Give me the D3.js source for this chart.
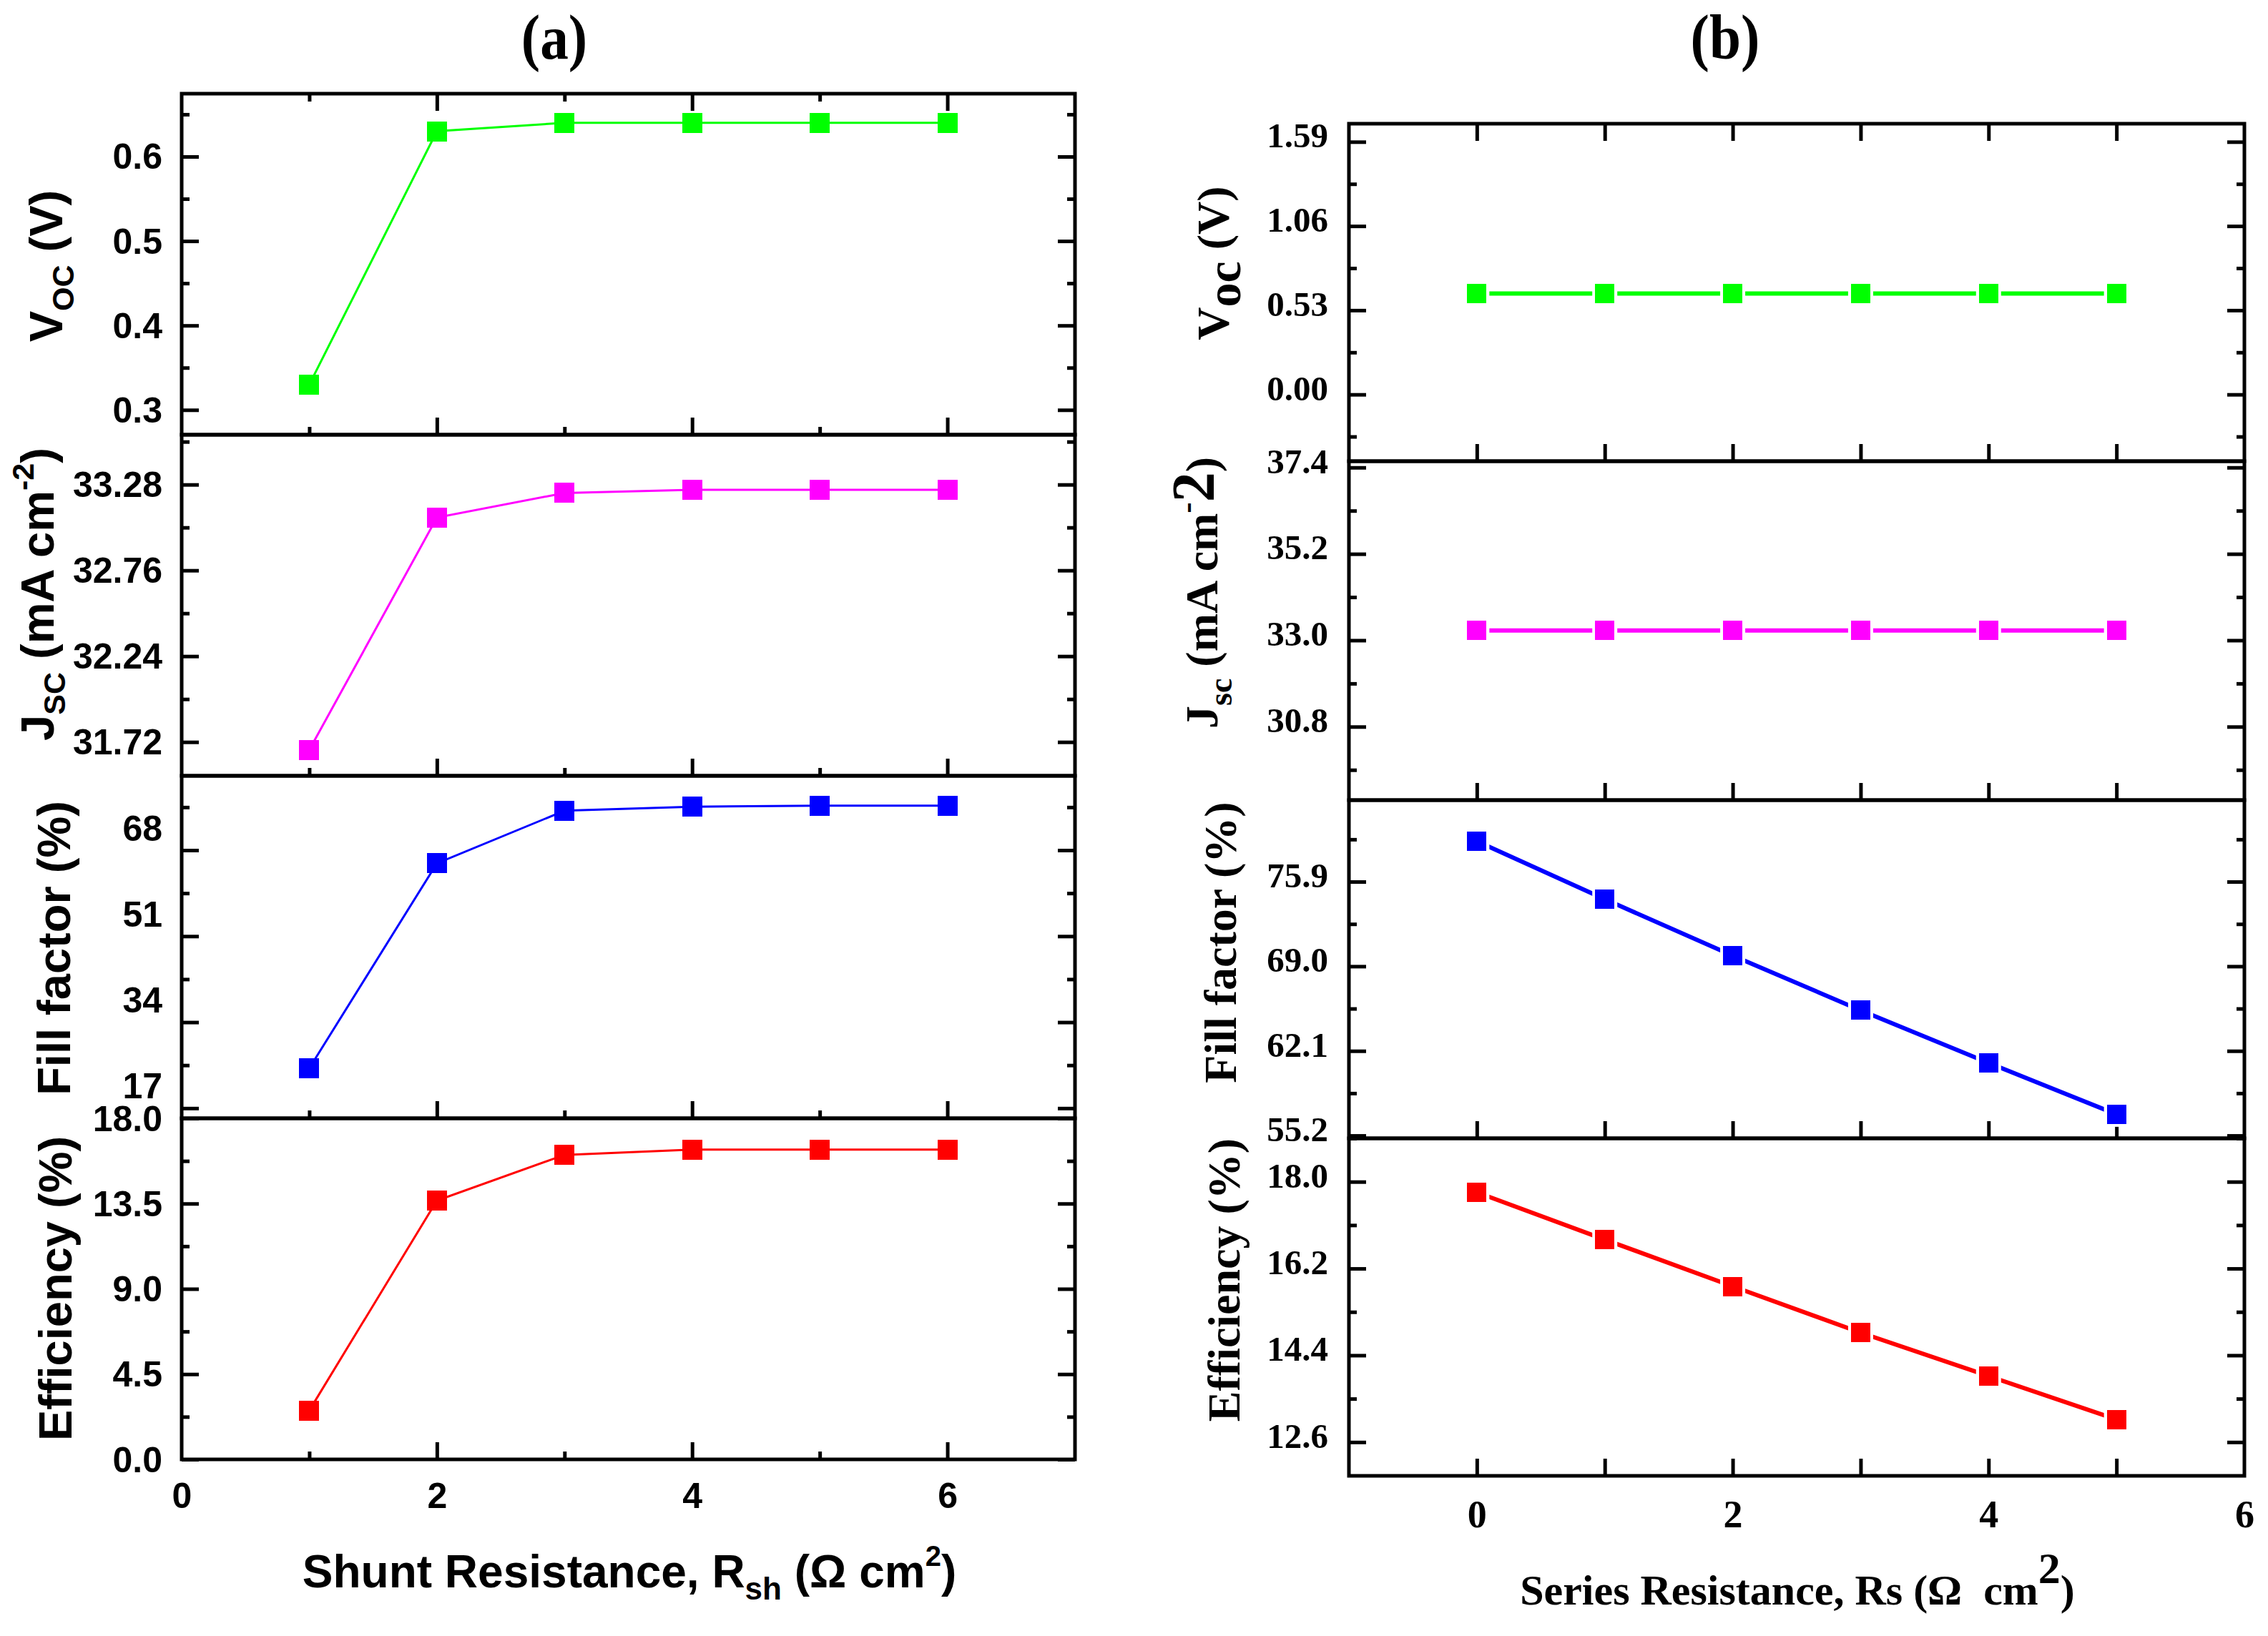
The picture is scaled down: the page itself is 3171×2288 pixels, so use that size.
<!DOCTYPE html>
<html>
<head>
<meta charset="utf-8">
<script src="https://cdn.jsdelivr.net/npm/d3@7"></script>
<style>
  body { margin: 0; background: #fff; }
  svg { display: block; }
  .sans { font-family: "Liberation Sans", Arial, sans-serif; font-weight: bold; }
  .serif { font-family: "Liberation Serif", "Times New Roman", serif; font-weight: bold; }
</style>
</head>
<body>
<div id="chart"></div>
<script>
// ---- data, panel (a): shunt resistance ----
var rshValues = [1, 2, 3, 4, 5, 6];
var vocShunt = [0.33, 0.63, 0.64, 0.64, 0.64, 0.64];
var jscShunt = [31.672, 33.08, 33.229, 33.248, 33.248, 33.248];
var ffShunt = [24.9, 65.4, 75.8, 76.6, 76.8, 76.8];
var effShunt = [2.58, 13.66, 16.07, 16.35, 16.35, 16.35];

// ---- data, panel (b): series resistance ----
var rsValues = [0, 1, 2, 3, 4, 5];
var vocSeries = [0.635, 0.635, 0.635, 0.635, 0.635, 0.635];
var jscSeries = [33.25, 33.25, 33.25, 33.25, 33.25, 33.25];
var ffSeries = [79.2, 74.47, 69.87, 65.41, 61.12, 56.93];
var effSeries = [17.78, 16.80, 15.83, 14.87, 13.97, 13.07];

// ---- tick values ----
var xTicksA = [2, 4, 6], xMinorA = [1, 3, 5], xLabelsA = [0, 2, 4, 6];
var xTicksB = [0, 1, 2, 3, 4, 5], xLabelsB = [0, 2, 4, 6];

var vocTicksA = [0.3, 0.4, 0.5, 0.6], vocMinorA = [0.35, 0.45, 0.55, 0.65];
var jscTicksA = [31.72, 32.24, 32.76, 33.28], jscMinorA = [31.98, 32.5, 33.02, 33.54];
var ffTicksA = [17, 34, 51, 68], ffMinorA = [25.5, 42.5, 59.5, 76.5];
var effTicksA = [0, 4.5, 9, 13.5, 18], effMinorA = [2.25, 6.75, 11.25, 15.75];

var vocTicksB = [0, 0.53, 1.06, 1.59], vocMinorB = [-0.265, 0.265, 0.795, 1.325];
var jscTicksB = [30.8, 33.0, 35.2, 37.4], jscMinorB = [29.7, 31.9, 34.1, 36.3];
var ffTicksB = [55.2, 62.1, 69.0, 75.9], ffMinorB = [58.65, 65.55, 72.45, 79.35];
var effTicksB = [12.6, 14.4, 16.2, 18.0], effMinorB = [13.5, 15.3, 17.1, 18.9];

var GREEN = '#00ff00', MAGENTA = '#ff00ff', BLUE = '#0000ff', RED = '#ff0000';
var W = 3171, H = 2288;
var TICK = 24, TICK_MINOR = 11, AXIS_W = 5;

var svg = d3.select('#chart').append('svg')
   .attr('width', W).attr('height', H);
svg.append('rect').attr('width', W).attr('height', H).attr('fill', '#fff');

// panel geometry
var A = { left: 254, right: 1503, tops: [131, 608, 1085, 1564, 2041] };
var B = { left: 1886, right: 3138, tops: [173, 645, 1119, 1592, 2064] };

var xA = d3.scaleLinear().domain([0, 7]).range([A.left, A.right]);
var xB = d3.scaleLinear().domain([-1, 6]).range([B.left, B.right]);

function styleAxis(sel) {
   sel.select('.domain').remove();
   sel.selectAll('.tick line').attr('stroke', '#000').attr('stroke-width', AXIS_W);
}

// draws one stacked sub-panel
function drawPanel(p, row, x, cfg) {
   var top = p.tops[row], bottom = p.tops[row + 1];
   var y = d3.scaleLinear().domain(cfg.domain).range([bottom, top]);
   var g = svg.append('g');

   // y ticks left (labelled) and right (mirrored), all inward
   var left = g.append('g').attr('transform', 'translate(' + p.left + ',0)')
      .call(d3.axisLeft(y).tickValues(cfg.ticks).tickSize(-TICK)
         .tickPadding(cfg.pad).tickFormat(d3.format(cfg.fmt)));
   left.selectAll('text').attr('class', cfg.font).attr('font-size', cfg.fs)
      .attr('fill', '#000').attr('dy', cfg.labelDy);
   styleAxis(left);
   styleAxis(g.append('g').attr('transform', 'translate(' + p.left + ',0)')
      .call(d3.axisLeft(y).tickValues(cfg.minor).tickSize(-TICK_MINOR).tickFormat('')));
   styleAxis(g.append('g').attr('transform', 'translate(' + p.right + ',0)')
      .call(d3.axisRight(y).tickValues(cfg.ticks).tickSize(-TICK).tickFormat('')));
   styleAxis(g.append('g').attr('transform', 'translate(' + p.right + ',0)')
      .call(d3.axisRight(y).tickValues(cfg.minor).tickSize(-TICK_MINOR).tickFormat('')));

   // x ticks at bottom of every sub-panel, inward
   styleAxis(g.append('g').attr('transform', 'translate(0,' + bottom + ')')
      .call(d3.axisBottom(x).tickValues(cfg.xTicks).tickSize(-TICK).tickFormat('')));
   if (cfg.xMinor) {
      styleAxis(g.append('g').attr('transform', 'translate(0,' + bottom + ')')
         .call(d3.axisBottom(x).tickValues(cfg.xMinor).tickSize(-TICK_MINOR).tickFormat('')));
   }
   if (row === 0) {
      styleAxis(g.append('g').attr('transform', 'translate(0,' + top + ')')
         .call(d3.axisTop(x).tickValues(cfg.xTicks).tickSize(-TICK).tickFormat('')));
      if (cfg.xMinor) {
         styleAxis(g.append('g').attr('transform', 'translate(0,' + top + ')')
            .call(d3.axisTop(x).tickValues(cfg.xMinor).tickSize(-TICK_MINOR).tickFormat('')));
      }
   }
   if (row === 3) {
      var xl = g.append('g').attr('transform', 'translate(0,' + bottom + ')')
         .call(d3.axisBottom(x).tickValues(cfg.xLabels).tickSize(0)
            .tickPadding(cfg.xPad).tickFormat(d3.format('d')));
      xl.select('.domain').remove();
      xl.selectAll('text').attr('class', cfg.font).attr('font-size', cfg.xfs).attr('fill', '#000');
   }

   // line + square markers
   var pts = cfg.xs.map(function(d, i){ return [d, cfg.ys[i]]; });
   g.append('path')
      .attr('d', d3.line().x(function(d){ return x(d[0]); }).y(function(d){ return y(d[1]); })(pts))
      .attr('fill', 'none').attr('stroke', cfg.color).attr('stroke-width', cfg.lw)
      .attr('stroke-linecap', 'round');
   if (cfg.halo) {
      // white gap between line and marker, as in panel (b)
      g.selectAll('rect.halo').data(pts).enter().append('rect')
         .attr('class', 'halo')
         .attr('x', function(d){ return x(d[0]) - cfg.ms / 2 - cfg.halo; })
         .attr('y', function(d){ return y(d[1]) - cfg.ms / 2 - cfg.halo; })
         .attr('width', cfg.ms + 2 * cfg.halo).attr('height', cfg.ms + 2 * cfg.halo)
         .attr('fill', '#fff');
   }
   g.selectAll('rect.mk').data(pts).enter().append('rect')
      .attr('class', 'mk')
      .attr('x', function(d){ return x(d[0]) - cfg.ms / 2; })
      .attr('y', function(d){ return y(d[1]) - cfg.ms / 2; })
      .attr('width', cfg.ms).attr('height', cfg.ms)
      .attr('fill', cfg.color).attr('shape-rendering', 'crispEdges');

   // frame
   g.append('rect')
      .attr('x', p.left).attr('y', top)
      .attr('width', p.right - p.left).attr('height', bottom - top)
      .attr('fill', 'none').attr('stroke', '#000').attr('stroke-width', AXIS_W);
}

// ---------- panel (a) ----------
var baseA = { font: 'sans', fs: 50, pad: 27, labelDy: '0.34em', xTicks: xTicksA, xMinor: xMinorA,
   xLabels: xLabelsA, xPad: 32, xfs: 50, xs: rshValues, lw: 3, ms: 28, halo: 0 };
drawPanel(A, 0, xA, Object.assign({}, baseA, { domain: [0.2706, 0.6745], ticks: vocTicksA, minor: vocMinorA,
   fmt: '.1f', ys: vocShunt, color: GREEN }));
drawPanel(A, 1, xA, Object.assign({}, baseA, { domain: [31.515, 33.582], ticks: jscTicksA, minor: jscMinorA,
   fmt: '.2f', ys: jscShunt, color: MAGENTA }));
drawPanel(A, 2, xA, Object.assign({}, baseA, { domain: [15.0, 82.7], ticks: ffTicksA, minor: ffMinorA,
   fmt: 'd', ys: ffShunt, color: BLUE, labelDy: '-0.28em' }));
drawPanel(A, 3, xA, Object.assign({}, baseA, { domain: [0, 18], ticks: effTicksA, minor: effMinorA,
   fmt: '.1f', ys: effShunt, color: RED }));

// ---------- panel (b) ----------
var baseB = { font: 'serif', fs: 49, pad: 29, labelDy: '0.15em', xTicks: xTicksB, xMinor: null,
   xLabels: xLabelsB, xPad: 34, xfs: 54, xs: rsValues, lw: 6, ms: 27, halo: 4 };
drawPanel(B, 0, xB, Object.assign({}, baseB, { domain: [-0.42, 1.704], ticks: vocTicksB, minor: vocMinorB,
   fmt: '.2f', ys: vocSeries, color: GREEN }));
drawPanel(B, 1, xB, Object.assign({}, baseB, { domain: [28.93, 37.56], ticks: jscTicksB, minor: jscMinorB,
   fmt: '.1f', ys: jscSeries, color: MAGENTA }));
drawPanel(B, 2, xB, Object.assign({}, baseB, { domain: [54.97, 82.55], ticks: ffTicksB, minor: ffMinorB,
   fmt: '.1f', ys: ffSeries, color: BLUE }));
drawPanel(B, 3, xB, Object.assign({}, baseB, { domain: [11.9, 18.9], ticks: effTicksB, minor: effMinorB,
   fmt: '.1f', ys: effSeries, color: RED }));

// ---------- titles ----------
// parts: [text, fontSize, dy]
function richText(x, y, cls, size, parts, rotate, sx) {
   var t = svg.append('text')
      .attr('class', cls).attr('font-size', size).attr('text-anchor', 'middle')
      .attr('transform', 'translate(' + x + ',' + y + ')' + (rotate ? ' rotate(-90)' : '') +
         (sx ? ' scale(' + sx + ',1)' : ''));
   parts.forEach(function(p){
      t.append('tspan').attr('font-size', p[1] || size).attr('dy', p[2] || 0).text(p[0]);
   });
   return t;
}

richText(775, 82, 'serif', 88, [['(a)']], false, 0.9);
richText(2412, 82, 'serif', 88, [['(b)']], false, 0.9);

// (a) y titles
richText(87, 372, 'sans', 65, [['V'], ['OC', 43, 16], [' (V)', 65, -16]], true);
richText(75, 831, 'sans', 65, [['J'], ['SC', 43, 16], [' (mA cm', 65, -16], ['-2', 43, -28], [')', 65, 28]], true);
richText(98, 1326, 'sans', 65, [['Fill factor (%)']], true);
richText(100, 1802, 'sans', 65, [['Efficiency (%)']], true);

// (b) y titles
richText(1718, 368, 'serif', 64, [['V'], ['oc', 68, 16], [' (V)', 64, -16]], true);
richText(1702, 829, 'serif', 64, [['J'], ['sc', 46, 20], [' (mA cm', 64, -20], ['-', 46, -28], ['2', 84, 23], [')', 64, 5]], true);
richText(1728, 1318, 'serif', 64, [['Fill factor (%)']], true);
richText(1733, 1790, 'serif', 64, [['Efficiency (%)']], true);

// x titles
richText(880, 2220, 'sans', 64, [['Shunt Resistance, R'], ['sh', 44, 17], [' (\u03a9 cm', 64, -17], ['2', 40, -30], [')', 64, 30]], false);
richText(2513, 2244, 'serif', 60, [['Series Resistance, Rs (\u03a9\u00a0 cm'], ['2', 62, -30], [')', 60, 30]], false);
</script>
</body>
</html>
